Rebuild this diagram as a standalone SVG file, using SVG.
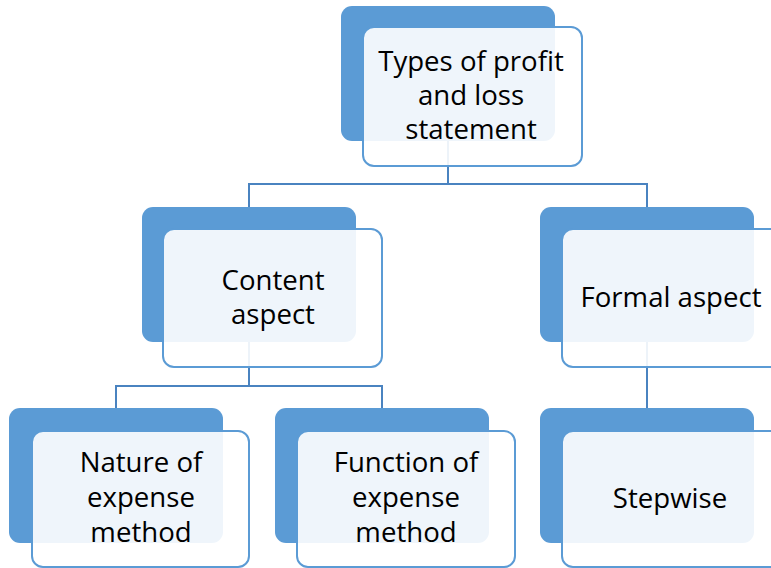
<svg xmlns="http://www.w3.org/2000/svg" width="771" height="568" viewBox="0 0 771 568">
  <style>
    .back { fill: #5B9BD5; }
    .front { fill: #FFFFFF; fill-opacity: 0.9; stroke: #5B9BD5; stroke-width: 2; }
    .link { fill: none; stroke: #4A83C0; stroke-width: 2; }
    .label { font-family: "Open Sans", "Liberation Sans", sans-serif; font-size: 27.6px; fill: #000000; text-anchor: middle; }
  </style>
  <rect width="771" height="568" fill="#FFFFFF"/>

  <!-- hierarchy connectors -->
  <g id="connectors">
    <path class="link" d="M448 141 V184 M249 207 V184 H647 V207"/>
    <path class="link" d="M249 342 V386 M116 408 V386 H382 V408"/>
    <path class="link" d="M647 342 V408"/>
  </g>

  <g id="node-root">
    <rect class="back" x="341" y="6" width="214" height="135" rx="11"/>
    <rect class="front" x="363" y="27" width="219" height="139" rx="11"/>
    <text class="label" x="471" y="71">Types of profit</text>
    <text class="label" x="471" y="105">and loss</text>
    <text class="label" x="471" y="139">statement</text>
  </g>

  <g id="node-content">
    <rect class="back" x="142" y="207" width="214" height="135" rx="11"/>
    <rect class="front" x="163" y="229" width="219" height="138" rx="11"/>
    <text class="label" x="273" y="290">Content</text>
    <text class="label" x="273" y="324">aspect</text>
  </g>

  <g id="node-formal">
    <rect class="back" x="540" y="207" width="214" height="135" rx="11"/>
    <rect class="front" x="562" y="229" width="219" height="138" rx="11"/>
    <text class="label" x="671" y="307">Formal aspect</text>
  </g>

  <g id="node-nature">
    <rect class="back" x="9" y="408" width="214" height="135" rx="11"/>
    <rect class="front" x="32" y="431" width="217" height="136" rx="11"/>
    <text class="label" x="141" y="472">Nature of</text>
    <text class="label" x="141" y="507">expense</text>
    <text class="label" x="141" y="542">method</text>
  </g>

  <g id="node-function">
    <rect class="back" x="275" y="408" width="214" height="135" rx="11"/>
    <rect class="front" x="297" y="431" width="218" height="136" rx="11"/>
    <text class="label" x="406" y="472">Function of</text>
    <text class="label" x="406" y="507">expense</text>
    <text class="label" x="406" y="542">method</text>
  </g>

  <g id="node-stepwise">
    <rect class="back" x="540" y="408" width="214" height="135" rx="11"/>
    <rect class="front" x="562" y="431" width="219" height="136" rx="11"/>
    <text class="label" x="670" y="508">Stepwise</text>
  </g>
</svg>
